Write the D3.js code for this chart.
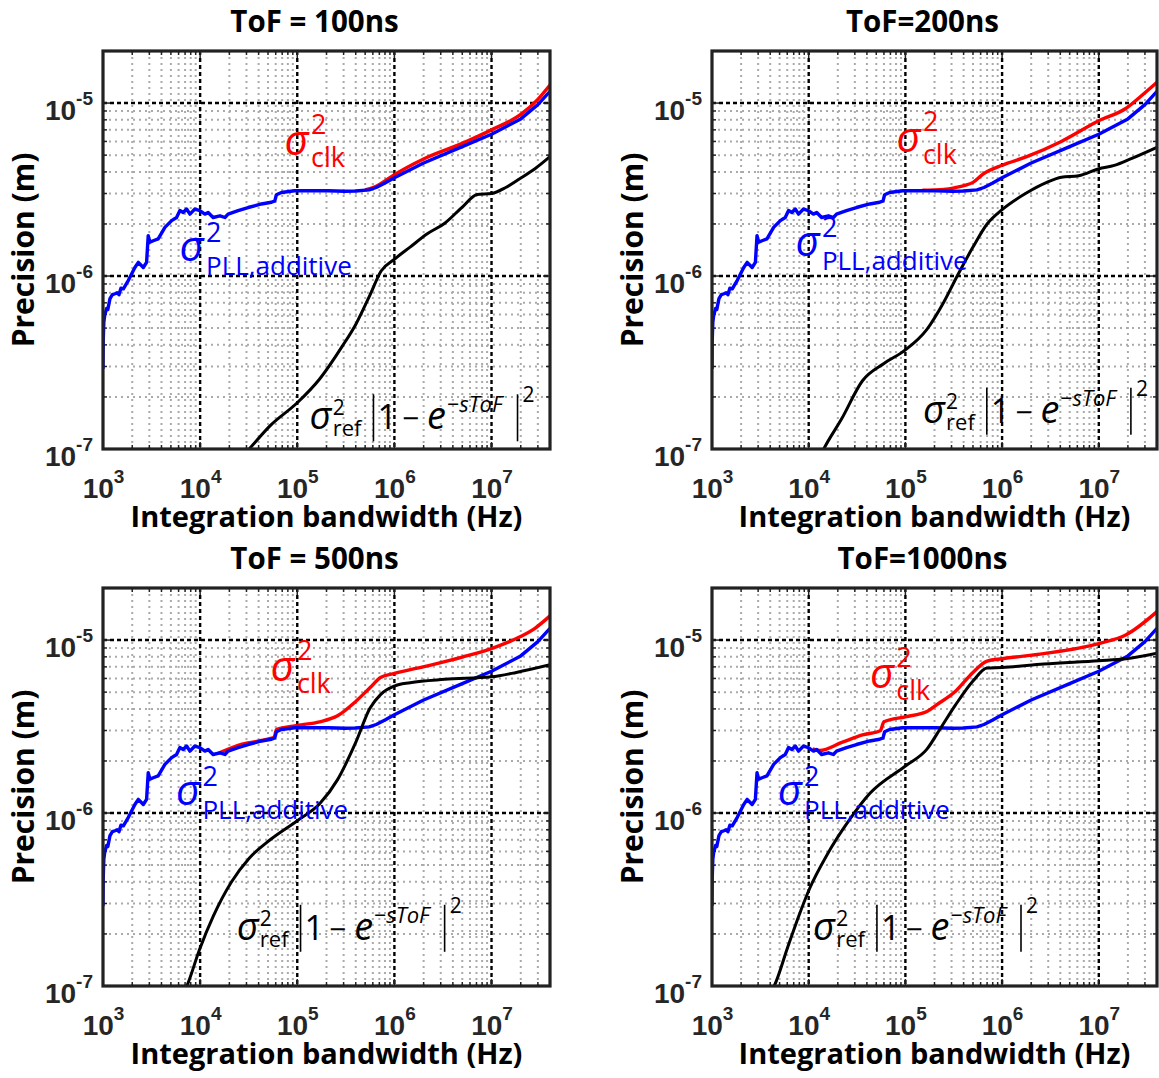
<!DOCTYPE html>
<html><head><meta charset="utf-8">
<script src="https://cdn.jsdelivr.net/npm/d3@7"></script>
<style>body{margin:0;background:#fff}svg{display:block}</style>
</head><body>
<svg id="chart" width="1159" height="1078"></svg>
<script>
// ---------------- DATA ----------------
const titles = ["ToF = 100ns", "ToF=200ns", "ToF = 500ns", "ToF=1000ns"];
const xLabel = "Integration bandwidth (Hz)";
const yLabel = "Precision (m)";
const xTickVals = [1e3, 1e4, 1e5, 1e6, 1e7];
const xTickExps = ["3", "4", "5", "6", "7"];
const yTickVals = [1e-7, 1e-6, 1e-5];
const yTickExps = ["-7", "-6", "-5"];
const xDomain = [1e3, 4e7];
const yDomain = [1e-7, 2e-5];

// PLL additive (blue) — same in all panels
const pllFreq = [1000,1005,1020,1040,1090,1120,1180,1250,1330,1400,1460,1530,1620,1820,2130,2310,2600,2810,2920,3040,3290,3700,4340,5090,5720,6190,6700,7260,7850,8840,9940,11200,12100,13600,16000,18000,19400,24600,31200,42800,54200,58700,61000,68800,94000,2.07e5,3.08e5,4e5,5.5e5,6.5e5,8e5,1e6,2e6,5e6,1e7,2e7,3e7,4e7];
const pllPrec = [2.9e-7,4.2e-7,5.4e-7,5.9e-7,6.5e-7,6.4e-7,7.4e-7,7.8e-7,7.9e-7,8.0e-7,7.8e-7,8.5e-7,8.43e-7,9.42e-7,1.12e-6,1.2e-6,1.12e-6,1.2e-6,1.71e-6,1.57e-6,1.6e-6,1.64e-6,1.91e-6,2.09e-6,2.18e-6,2.39e-6,2.33e-6,2.44e-6,2.28e-6,2.44e-6,2.39e-6,2.28e-6,2.33e-6,2.18e-6,2.23e-6,2.18e-6,2.28e-6,2.39e-6,2.49e-6,2.61e-6,2.67e-6,2.72e-6,2.95e-6,3.04e-6,3.11e-6,3.11e-6,3.09e-6,3.1e-6,3.15e-6,3.25e-6,3.45e-6,3.7e-6,4.5e-6,5.6e-6,6.6e-6,8.1e-6,9.8e-6,1.17e-5];

// clock total (red)
const clk100Freq = [5e5,6.5e5,8e5,1e6,2e6,5e6,1e7,2e7,3e7,4e7];
const clk100Prec = [3.15e-6,3.3e-6,3.55e-6,3.85e-6,4.75e-6,5.85e-6,7.0e-6,8.6e-6,1.05e-5,1.27e-5];
const clk200Freq = [1.5e5,2.5e5,3.3e5,4.2e5,5e5,6.4e5,1e6,1.8e6,4.1e6,1e7,1.9e7,2.8e7,4e7];
const clk200Prec = [3.13e-6,3.17e-6,3.25e-6,3.35e-6,3.48e-6,3.9e-6,4.37e-6,4.9e-6,6.0e-6,7.9e-6,9.3e-6,1.11e-5,1.32e-5];
const clk500Freq = [1.5e4,2.7e4,5.3e4,5.8e4,6.1e4,1e5,1.7e5,2.6e5,4e5,5.6e5,7.2e5,1e6,2.2e6,5e6,1e7,1.8e7,2.8e7,4e7];
const clk500Prec = [2.2e-6,2.5e-6,2.7e-6,2.75e-6,3.04e-6,3.21e-6,3.37e-6,3.65e-6,4.42e-6,5.3e-6,6.07e-6,6.41e-6,7.1e-6,7.97e-6,8.93e-6,1.02e-5,1.17e-5,1.38e-5];
const clk1000Freq = [1.1e4,1.3e4,2.2e4,3.6e4,5.5e4,6e4,1e5,1.67e5,2.1e5,3.3e5,5e5,7e5,1e6,2.7e6,1e7,1.9e7,4e7];
const clk1000Prec = [2.35e-6,2.3e-6,2.56e-6,2.83e-6,2.99e-6,3.37e-6,3.6e-6,3.86e-6,4.22e-6,5.06e-6,6.5e-6,7.55e-6,7.8e-6,8.35e-6,9.55e-6,1.07e-5,1.46e-5];

// reference term (black)
const ref100Freq = [2.8e4,3.2e4,5.3e4,1e5,1.7e5,2.9e5,4e5,5.6e5,7.3e5,1e6,1.45e6,2.2e6,3.3e6,5.1e6,7.1e6,1e7,1.4e7,1.95e7,2.8e7,4e7];
const ref100Prec = [9.2e-8,1.0e-7,1.37e-7,1.85e-7,2.54e-7,3.92e-7,5.25e-7,7.76e-7,1.07e-6,1.25e-6,1.47e-6,1.76e-6,2.02e-6,2.53e-6,2.96e-6,3.0e-6,3.25e-6,3.65e-6,4.17e-6,4.9e-6];
const ref200Freq = [1.3e4,1.43e4,2.2e4,3.6e4,6e4,1e5,1.67e5,2.5e5,3.5e5,5e5,7e5,1e6,1.8e6,2.9e6,4.1e6,6.2e6,1e7,1.45e7,2.2e7,4e7];
const ref200Prec = [9e-8,1e-7,1.5e-7,2.48e-7,3.12e-7,3.74e-7,4.92e-7,7.08e-7,1.02e-6,1.47e-6,2.0e-6,2.42e-6,3.03e-6,3.48e-6,3.73e-6,3.8e-6,4.17e-6,4.36e-6,4.79e-6,5.55e-6];
const ref500Freq = [7e3,7.3e3,9.8e3,1.37e4,2.1e4,3.2e4,5.3e4,1e5,1.7e5,2.6e5,4e5,5.6e5,7.2e5,1e6,1.45e6,3.3e6,1e7,1.8e7,4e7];
const ref500Prec = [9.5e-8,1e-7,1.61e-7,2.54e-7,3.99e-7,5.48e-7,7.03e-7,9.03e-7,1.13e-6,1.56e-6,2.56e-6,4.03e-6,4.84e-6,5.42e-6,5.67e-6,5.93e-6,6.13e-6,6.5e-6,7.2e-6];
const ref1000Freq = [4.2e3,4.4e3,6.1e3,7.9e3,1.02e4,1.55e4,2.6e4,4.3e4,1e5,1.67e5,2.3e5,3.3e5,5e5,7e5,1e6,2.7e6,1e7,1.9e7,4e7];
const ref1000Prec = [9.5e-8,1e-7,1.69e-7,2.54e-7,3.65e-7,5.74e-7,9.03e-7,1.3e-6,1.87e-6,2.34e-6,3.08e-6,4.22e-6,5.8e-6,6.89e-6,6.94e-6,7.27e-6,7.6e-6,7.8e-6,8.4e-6];

// annotation anchors (data coordinates of the sigma's baseline-left)
const clkLabelAt = [[7.4e4,5.0e-6],[8.1e4,5.24e-6],[5.3e4,5.8e-6],[4.3e4,5.3e-6]];
const pllLabelAt = [[6.15e3,1.22e-6],[7.3e3,1.31e-6],[5.65e3,1.11e-6],[4.78e3,1.11e-6]];
const refLabelAt = [[1.34e5,1.3e-7],[1.52e5,1.42e-7],[2.38e4,1.85e-7],[1.11e4,1.85e-7]];

const clkSeries = [[clk100Freq,clk100Prec],[clk200Freq,clk200Prec],[clk500Freq,clk500Prec],[clk1000Freq,clk1000Prec]];
const refSeries = [[ref100Freq,ref100Prec],[ref200Freq,ref200Prec],[ref500Freq,ref500Prec],[ref1000Freq,ref1000Prec]];

// ---------------- LAYOUT ----------------
const boxes = [
  {l:103, t:51, r:550, b:449},
  {l:712, t:51, r:1157, b:449},
  {l:103, t:588, r:550, b:986},
  {l:712, t:588, r:1157, b:986}
];
const MATH = "'Open Sans', 'DejaVu Sans', sans-serif";
const BOLD = "'Open Sans', 'DejaVu Sans', sans-serif";
const TICKF = "'Liberation Sans', Arial, sans-serif";

const svg = d3.select('#chart');

function zip(a, b) { return a.map((v, i) => [v, b[i]]); }

function minorVals(lo, hi, e0, e1) {
  const out = [];
  for (let e = e0; e <= e1; e++) for (let k = 2; k <= 9; k++) {
    const v = k * Math.pow(10, e);
    if (v > lo && v < hi) out.push(v);
  }
  return out;
}

function drawMath(g, x0, y0, items, color) {
  let x = x0;
  items.forEach(it => {
    if (it.bar) {
      x += it.pad;
      g.append('line').attr('x1', x).attr('x2', x)
        .attr('y1', y0 - it.up).attr('y2', y0 + it.down)
        .attr('stroke', color).attr('stroke-width', 1.6);
      x += it.pad;
      return;
    }
    if (it.stack) {
      let w = 0;
      it.stack.forEach(s => {
        const t = g.append('text').attr('x', x).attr('y', y0 - (s.rise || 0))
          .attr('font-family', MATH).attr('font-size', s.size)
          .attr('font-style', s.italic ? 'italic' : 'normal')
          .attr('fill', color).text(s.t);
        w = Math.max(w, t.node().getComputedTextLength());
      });
      x += w + (it.gap || 0);
      return;
    }
    x += (it.pre || 0);
    const t = g.append('text').attr('x', x).attr('y', y0 - (it.rise || 0))
      .attr('font-family', MATH).attr('font-size', it.size)
      .attr('font-style', it.italic ? 'italic' : 'normal')
      .attr('fill', color).text(it.t);
    x += t.node().getComputedTextLength() + (it.gap || 0);
  });
}

boxes.forEach((L, i) => {
  const x = d3.scaleLog().domain(xDomain).range([L.l, L.r]);
  const y = d3.scaleLog().domain(yDomain).range([L.b, L.t]);
  const g = svg.append('g');

  g.append('rect').attr('x', L.l).attr('y', L.t).attr('width', L.r - L.l).attr('height', L.b - L.t).attr('fill', '#fff');

  // minor grid
  const xMinor = minorVals(xDomain[0], xDomain[1], 3, 7);
  const yMinor = minorVals(yDomain[0], yDomain[1], -7, -5);
  g.selectAll('.xm').data(xMinor).join('line')
    .attr('x1', d => x(d)).attr('x2', d => x(d)).attr('y1', L.t).attr('y2', L.b)
    .attr('stroke', '#aaaaaa').attr('stroke-width', 2).attr('stroke-dasharray', '2,4');
  g.selectAll('.ym').data(yMinor).join('line')
    .attr('y1', d => y(d)).attr('y2', d => y(d)).attr('x1', L.l).attr('x2', L.r)
    .attr('stroke', '#aaaaaa').attr('stroke-width', 2).attr('stroke-dasharray', '2,4');
  // major grid
  g.selectAll('.xM').data(xTickVals.slice(1)).join('line')
    .attr('x1', d => x(d)).attr('x2', d => x(d)).attr('y1', L.t).attr('y2', L.b)
    .attr('stroke', '#000').attr('stroke-width', 2.4).attr('stroke-dasharray', '4,3');
  g.selectAll('.yM').data(yTickVals.slice(1)).join('line')
    .attr('y1', d => y(d)).attr('y2', d => y(d)).attr('x1', L.l).attr('x2', L.r)
    .attr('stroke', '#000').attr('stroke-width', 2.4).attr('stroke-dasharray', '4,3');

  // inward ticks
  const tk = g.append('g').attr('stroke', '#222').attr('stroke-width', 1.5);
  xMinor.concat(xTickVals).forEach(v => {
    const len = xTickVals.includes(v) ? 7 : 4;
    tk.append('line').attr('x1', x(v)).attr('x2', x(v)).attr('y1', L.b).attr('y2', L.b - len);
    tk.append('line').attr('x1', x(v)).attr('x2', x(v)).attr('y1', L.t).attr('y2', L.t + len);
  });
  yMinor.concat(yTickVals).forEach(v => {
    const len = yTickVals.includes(v) ? 7 : 4;
    tk.append('line').attr('y1', y(v)).attr('y2', y(v)).attr('x1', L.l).attr('x2', L.l + len);
    tk.append('line').attr('y1', y(v)).attr('y2', y(v)).attr('x1', L.r).attr('x2', L.r - len);
  });

  // curves
  const clipId = 'clip' + i;
  svg.append('clipPath').attr('id', clipId).append('rect')
    .attr('x', L.l).attr('y', L.t).attr('width', L.r - L.l).attr('height', L.b - L.t);
  const cg = g.append('g').attr('clip-path', `url(#${clipId})`);
  const smooth = d3.line().x(d => x(d[0])).y(d => y(d[1])).curve(d3.curveMonotoneX);
  const jag = d3.line().x(d => x(d[0])).y(d => y(d[1]));
  cg.append('path').attr('d', smooth(zip(clkSeries[i][0], clkSeries[i][1])))
    .attr('fill', 'none').attr('stroke', '#ff0000').attr('stroke-width', 3.4);
  cg.append('path').attr('d', jag(zip(pllFreq, pllPrec)))
    .attr('fill', 'none').attr('stroke', '#0000ff').attr('stroke-width', 3.4).attr('stroke-linejoin', 'round');
  cg.append('path').attr('d', smooth(zip(refSeries[i][0], refSeries[i][1])))
    .attr('fill', 'none').attr('stroke', '#000').attr('stroke-width', 3);

  // box
  g.append('rect').attr('x', L.l).attr('y', L.t).attr('width', L.r - L.l).attr('height', L.b - L.t)
    .attr('fill', 'none').attr('stroke', '#222').attr('stroke-width', 3.2);

  // axes (tick labels)
  const ax = g.append('g').attr('transform', `translate(0,${L.b})`)
    .call(d3.axisBottom(x).tickValues(xTickVals).tickSize(0).tickFormat(''));
  ax.select('.domain').remove();
  ax.selectAll('.tick').each(function(d, j) {
    const t = d3.select(this).append('text').attr('y', 49).attr('text-anchor', 'middle')
      .attr('fill', '#262626').attr('font-family', TICKF).attr('font-weight', 'bold').attr('font-size', 28);
    t.append('tspan').text('10');
    t.append('tspan').attr('font-size', 19).attr('dy', -15).text(xTickExps[j]);
  });
  const ay = g.append('g').attr('transform', `translate(${L.l},0)`)
    .call(d3.axisLeft(y).tickValues(yTickVals).tickSize(0).tickFormat(''));
  ay.select('.domain').remove();
  ay.selectAll('.tick').each(function(d, j) {
    const t = d3.select(this).append('text').attr('x', -10).attr('y', 16).attr('text-anchor', 'end')
      .attr('fill', '#262626').attr('font-family', TICKF).attr('font-weight', 'bold').attr('font-size', 28);
    t.append('tspan').text('10');
    t.append('tspan').attr('font-size', 19).attr('dy', -15).text(yTickExps[j]);
  });

  // titles and axis labels
  const cx = (L.l + L.r) / 2;
  g.append('text').attr('x', cx - 12).attr('y', L.t - 19).attr('text-anchor', 'middle')
    .attr('font-family', BOLD).attr('font-weight', 'bold').attr('font-size', 29.5).text(titles[i]);
  g.append('text').attr('x', cx).attr('y', L.b + 78).attr('text-anchor', 'middle')
    .attr('font-family', BOLD).attr('font-weight', 'bold').attr('font-size', 29).text(xLabel);
  const cy = (L.t + L.b) / 2;
  g.append('text').attr('transform', `translate(${L.l - 69},${cy}) rotate(-90)`).attr('text-anchor', 'middle')
    .attr('font-family', BOLD).attr('font-weight', 'bold').attr('font-size', 30).text(yLabel);

  // annotations
  const ag = g.append('g');
  drawMath(ag, x(clkLabelAt[i][0]), y(clkLabelAt[i][1]), [
    {t: 'σ', size: 42, italic: true, gap: 2},
    {stack: [{t: '2', size: 27, rise: 21}, {t: 'clk', size: 27, rise: -12}]}
  ], '#ff0000');
  drawMath(ag, x(pllLabelAt[i][0]), y(pllLabelAt[i][1]), [
    {t: 'σ', size: 42, italic: true, gap: 2},
    {stack: [{t: '2', size: 27, rise: 19}, {t: 'PLL,additive', size: 26, rise: -14}]}
  ], '#0000ff');
  drawMath(ag, x(refLabelAt[i][0]), y(refLabelAt[i][1]), [
    {t: 'σ', size: 38, italic: true, gap: 1},
    {stack: [{t: '2', size: 21, rise: 14}, {t: 'ref', size: 22, rise: -7}], gap: 9},
    {bar: true, pad: 3, up: 35, down: 12},
    {t: '1', size: 34, gap: 5, pre: 1},
    {t: '−', size: 30, gap: 8},
    {t: 'e', size: 38, italic: true, gap: 1},
    {t: '−sToF', size: 22, italic: true, rise: 17, gap: 12},
    {bar: true, pad: 3, up: 35, down: 12},
    {t: '2', size: 21, rise: 27, pre: 2}
  ], '#000');
});
</script>
</body></html>
